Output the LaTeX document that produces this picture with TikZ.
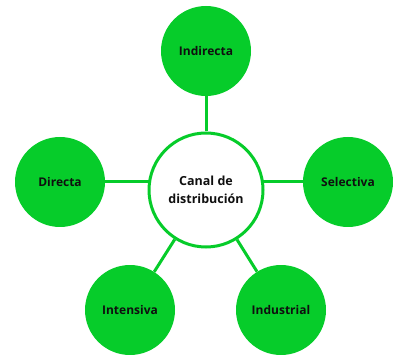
\documentclass[tikz,border=0pt]{standalone}
\usepackage{fontspec}
\setmainfont{Open Sans}
\usetikzlibrary{backgrounds}
\definecolor{vgreen}{RGB}{6,204,42}
\definecolor{ltxt}{RGB}{15,15,15}
\tikzset{
  leaf/.style={circle, fill=vgreen, draw=none, minimum size=90pt, inner sep=0pt,
    font=\bfseries\fontsize{12}{14}\selectfont, text=ltxt},
  hub/.style={circle, fill=white, draw=vgreen, line width=3pt, minimum size=114pt, inner sep=0pt,
    align=center, font=\bfseries\fontsize{12.5}{18.5}\selectfont, text=ltxt},
  link/.style={draw=vgreen, line width=3pt}
}
\begin{document}
\begin{tikzpicture}[x=1pt,y=-1pt]
\useasboundingbox (0,0) rectangle (393,355);
\node[hub] (ctr) at (206,190) {Canal de\\distribución};
\node[leaf] (ind) at (206,51) {Indirecta};
\node[leaf] (dir) at (60,182) {Directa};
\node[leaf] (sel) at (348,182) {Selectiva};
\node[leaf] (int) at (130,310) {Intensiva};
\node[leaf] (inu) at (281,310) {Industrial};
\begin{scope}[on background layer]
\draw[link] (ind) -- (ctr);
\draw[link] (dir) -- (dir -| ctr);
\draw[link] (sel) -- (sel -| ctr);
\draw[link] (int) -- (ctr);
\draw[link] (inu) -- (ctr);
\end{scope}
\end{tikzpicture}
\end{document}
